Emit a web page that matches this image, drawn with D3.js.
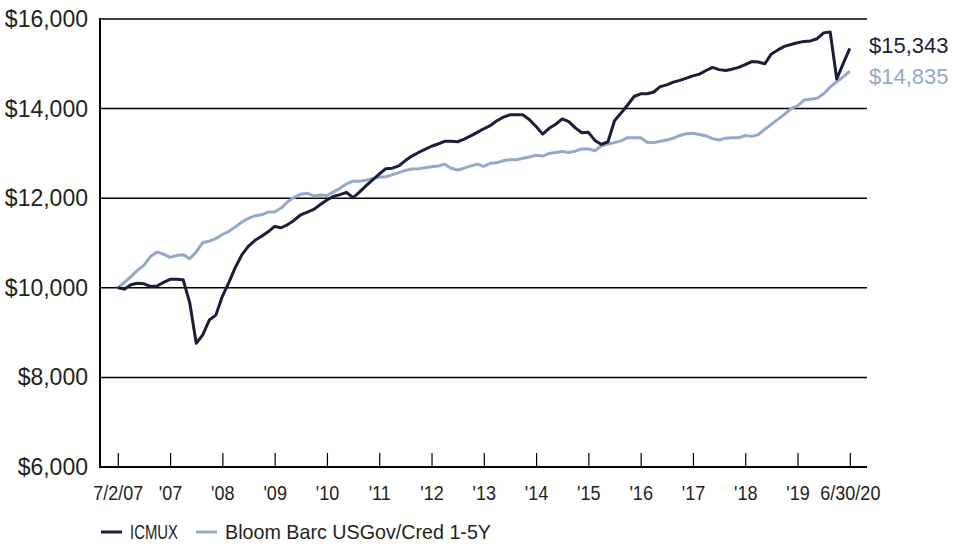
<!DOCTYPE html>
<html>
<head>
<meta charset="utf-8">
<script src="https://cdn.jsdelivr.net/npm/d3@7"></script>
<style>
  body { margin: 0; background: #fff; }
  svg text { font-family: "Liberation Sans", Arial, sans-serif; }
</style>
</head>
<body>
<svg id="chart" width="954" height="547"></svg>
<script>
// tick labels, evenly spaced on the axis
const tickLabels = ["7/2/07", "'07", "'08", "'09", "'10", "'11", "'12", "'13", "'14", "'15", "'16", "'17", "'18", "'19", "6/30/20"];
const yTicks = [6000, 8000, 10000, 12000, 14000, 16000];

// growth of $10,000, read at every 1/8 of a tick interval
const icmux = [
  10000, 9970, 10070, 10100, 10090, 10030, 10040, 10120,
  10190, 10190, 10180, 9670, 8760, 8950, 9280, 9390,
  9810, 10120, 10460, 10740, 10930, 11060, 11150, 11250,
  11370, 11340, 11410, 11510, 11630, 11690, 11750, 11860,
  11960, 12040, 12080, 12130, 12010, 12140, 12280, 12410,
  12540, 12660, 12670, 12720, 12840, 12940, 13020, 13090,
  13160, 13210, 13270, 13270, 13260, 13320, 13390, 13470,
  13550, 13620, 13730, 13810, 13860, 13860, 13860, 13750,
  13600, 13430, 13560, 13650, 13770, 13710, 13570, 13460,
  13470, 13290, 13200, 13260, 13730, 13900, 14080, 14270,
  14330, 14330, 14370, 14490, 14530, 14590, 14630, 14680,
  14730, 14770, 14850, 14920, 14870, 14850, 14880, 14920,
  14980, 15050, 15040, 15000, 15220, 15310, 15390, 15430,
  15470, 15500, 15510, 15560, 15690, 15710, 14660, 15010,
  15343
];
const bench = [
  10000, 10120, 10250, 10390, 10500, 10700, 10800, 10750,
  10680, 10720, 10740, 10650, 10800, 11010, 11040, 11100,
  11190, 11260, 11360, 11470, 11550, 11610, 11630, 11690,
  11690, 11780, 11920, 12020, 12090, 12110, 12050, 12070,
  12060, 12140, 12220, 12320, 12380, 12380, 12400, 12440,
  12470, 12480, 12520, 12570, 12620, 12650, 12660, 12680,
  12700, 12720, 12760, 12670, 12630, 12670, 12720, 12760,
  12710, 12780, 12790, 12840, 12860, 12860, 12890, 12920,
  12960, 12940, 13000, 13020, 13040, 13020, 13050, 13100,
  13100, 13060, 13170, 13210, 13240, 13280, 13350, 13350,
  13350, 13250, 13240, 13270, 13300, 13340, 13400, 13440,
  13450, 13420, 13390, 13330, 13300, 13340, 13350, 13350,
  13400, 13380, 13420, 13540, 13650, 13760, 13870, 14000,
  14060, 14190, 14210, 14230, 14330, 14480, 14600, 14710,
  14835
];
const seriesNames = ["ICMUX", "Bloom Barc USGov/Cred 1-5Y"];
const colors = ["#1b1e3b", "#94a9c9"];

const svg = d3.select("#chart");
const x = d3.scaleLinear().domain([0, tickLabels.length - 1]).range([117.8, 849.8]);
const y = d3.scaleLinear().domain([6000, 16000]).range([467, 19]);
const step = 1 / 8;

// gridlines
svg.append("g").selectAll("line")
  .data(yTicks.slice(1))
  .join("line")
  .attr("x1", 100).attr("x2", 867)
  .attr("y1", d => y(d)).attr("y2", d => y(d))
  .attr("stroke", "#000").attr("stroke-width", 1.5);

// y labels
svg.append("g").selectAll("text")
  .data(yTicks)
  .join("text")
  .attr("x", 88).attr("y", d => y(d))
  .attr("dy", "0.35em")
  .attr("text-anchor", "end")
  .attr("font-size", 23)
  .attr("fill", "#231f20")
  .text(d => "$" + d3.format(",")(d));

// x axis
const xAxis = d3.axisBottom(x)
  .tickValues(d3.range(tickLabels.length))
  .tickFormat(i => tickLabels[i])
  .tickSizeInner(-14).tickSizeOuter(0).tickPadding(18);
const gx = svg.append("g").attr("transform", "translate(0,467)").call(xAxis);
gx.select(".domain").remove();
gx.selectAll("line").attr("stroke", "#000").attr("stroke-width", 1.2);
gx.selectAll("text").attr("font-size", 21).attr("fill", "#231f20")
  .attr("transform", "scale(0.86,1)")
  .attr("font-family", "'Liberation Sans', Arial, sans-serif");
svg.append("line").attr("x1", 100).attr("x2", 867).attr("y1", 467).attr("y2", 467)
  .attr("stroke", "#000").attr("stroke-width", 2);
svg.append("line").attr("x1", 100).attr("x2", 100).attr("y1", 18).attr("y2", 468)
  .attr("stroke", "#000").attr("stroke-width", 2);

// lines
const line = d3.line().x((d, i) => x(i * step)).y(d => y(d));
[bench, icmux].forEach((s, j) => {
  svg.append("path").datum(s)
    .attr("fill", "none")
    .attr("stroke", colors[1 - j])
    .attr("stroke-width", 3)
    .attr("stroke-linejoin", "round")
    .attr("d", line);
});

// end labels
[icmux, bench].forEach((s, j) => {
  svg.append("text")
    .attr("x", 869).attr("y", j === 0 ? 45 : 76)
    .attr("dy", "0.35em")
    .attr("font-size", 22)
    .attr("fill", colors[j])
    .text("$" + d3.format(",")(s[s.length - 1]));
});

// legend
const leg = svg.append("g").attr("transform", "translate(101,532)");
const legX = [0, 95];
const legW = [48, 266];
seriesNames.forEach((n, j) => {
  leg.append("line").attr("x1", legX[j]).attr("x2", legX[j] + 21)
    .attr("y1", 0).attr("y2", 0)
    .attr("stroke", colors[j]).attr("stroke-width", 3);
  leg.append("text").attr("x", legX[j] + 29).attr("y", 0).attr("dy", "0.35em")
    .attr("font-size", 21)
    .attr("textLength", legW[j]).attr("lengthAdjust", "spacingAndGlyphs")
    .attr("fill", "#231f20").text(n);
});
</script>
</body>
</html>
